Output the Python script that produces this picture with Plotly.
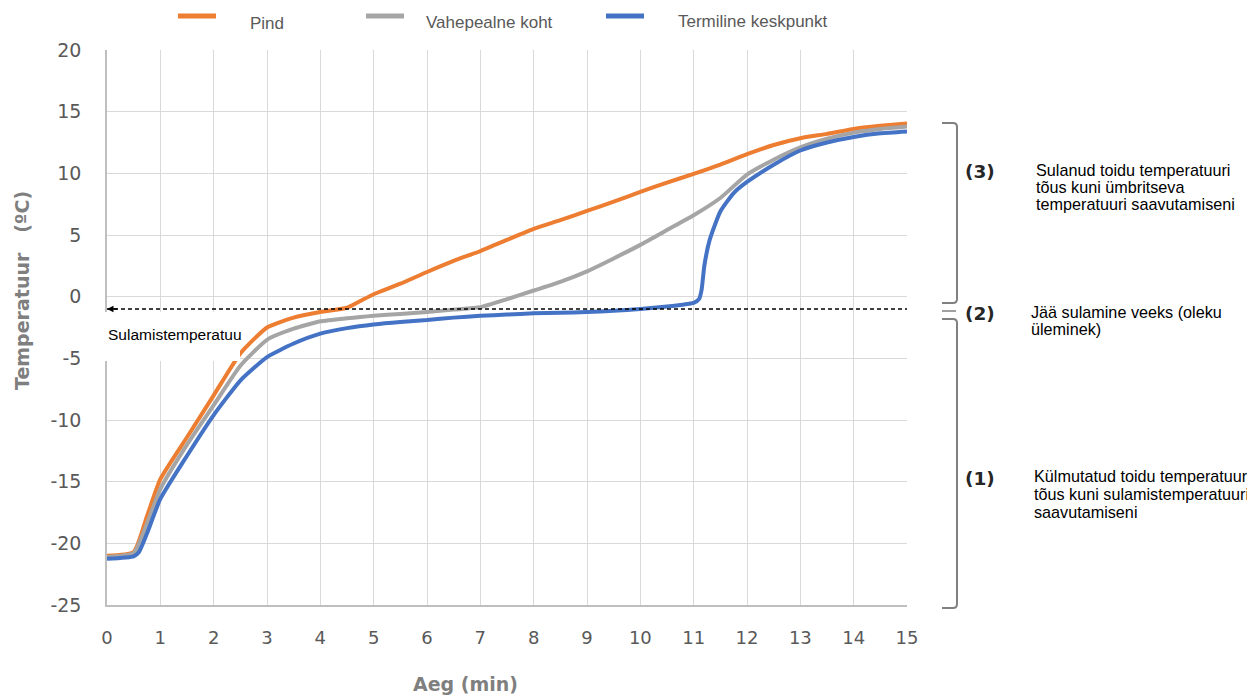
import plotly.graph_objects as go

# ---------------- data ----------------
time_min = [0, 0.5, 0.75, 1, 1.5, 2, 2.5, 3, 3.5, 4, 4.5, 4.75, 5, 5.5, 6, 6.5, 7, 7.5,
            8, 8.5, 9, 9.5, 10, 10.5, 11, 11.5, 12, 12.5, 13, 13.5, 14, 14.5, 15]
pind = [-21.0, -20.7, -17.8, -14.8, -11.4, -8.0, -4.6, -2.5, -1.7, -1.25, -0.9, -0.35,
        0.2, 1.05, 2.0, 2.9, 3.7, 4.6, 5.5, 6.2, 6.95, 7.7, 8.5, 9.25, 9.95, 10.7, 11.55,
        12.3, 12.85, 13.2, 13.6, 13.85, 14.05]
vahepealne = [-21.1, -20.8, -18.4, -15.6, -12.0, -8.8, -5.6, -3.5, -2.6, -2.0, -1.75,
              -1.65, -1.55, -1.4, -1.25, -1.05, -0.85, -0.2, 0.5, 1.2, 2.05, 3.1, 4.2,
              5.4, 6.6, 8.0, 9.9, 11.1, 12.1, 12.8, 13.3, 13.6, 13.8]
time_kesk = [0, 0.5, 0.6, 0.75, 1, 1.5, 2, 2.5, 3, 3.5, 4, 4.5, 5, 5.5, 6, 6.5, 7, 7.5,
             8, 8.5, 9, 9.5, 10, 10.5, 10.8, 11, 11.1, 11.15, 11.2, 11.3, 11.5, 11.75,
             12, 12.5, 13, 13.5, 14, 14.5, 15]
keskpunkt = [-21.25, -21.05, -20.7, -19.2, -16.4, -12.9, -9.6, -6.8, -4.9, -3.8, -3.0,
             -2.55, -2.25, -2.05, -1.9, -1.7, -1.55, -1.45, -1.35, -1.3, -1.25, -1.15,
             -1.0, -0.8, -0.65, -0.5, -0.2, 0.6, 2.5, 4.6, 6.9, 8.4, 9.3, 10.7, 11.85,
             12.5, 12.95, 13.25, 13.4]
melt_temp = -1.0

series_names = ["Pind", "Vahepealne koht", "Termiline keskpunkt"]
series_colors = ["#ED7D31", "#A5A5A5", "#4472C4"]

x_ticks = list(range(0, 16))
y_ticks = list(range(-25, 21, 5))

phase_labels = ["(3)", "(2)", "(1)"]
phase_texts = [
    ["Sulanud toidu temperatuuri", "tõus kuni ümbritseva", "temperatuuri saavutamiseni"],
    ["Jää sulamine veeks (oleku", "üleminek)"],
    ["Külmutatud toidu temperatuur", "tõus kuni sulamistemperatuuri", "saavutamiseni"],
]
melt_label = "Sulamistemperatuu"
x_title = "Aeg (min)"
y_title = "Temperatuur\u00a0\u00a0\u00a0(ºC)"

# ---------------- layout helpers (screen pixel -> paper) ----------------
# the page body has an 8px margin, so the figure is drawn 8px in from the corner
OFF = 8
W, H = 1255 - OFF, 695 - OFF
L, T = 107 - OFF, 50 - OFF
PW, PH = 800, 555
R, B = W - L - PW, H - T - PH


def px(x):
    return (x - OFF - L) / PW


def py(y):
    return (T + PH - (y - OFF)) / PH


fig = go.Figure()
for xs, ys, name, col in [(time_min, pind, series_names[0], series_colors[0]),
                          (time_min, vahepealne, series_names[1], series_colors[1]),
                          (time_kesk, keskpunkt, series_names[2], series_colors[2])]:
    fig.add_trace(go.Scatter(x=xs, y=ys, name=name, mode="lines",
                             line=dict(color=col, width=4, shape="spline", smoothing=0.5),
                             showlegend=False))

shapes = []
annotations = []

# melting temperature dashed line
shapes.append(dict(type="line", xref="x", yref="y", x0=0, x1=15, y0=melt_temp, y1=melt_temp,
                   line=dict(color="#000000", width=1.3, dash="4px,3px"), layer="above"))
annotations.append(dict(x=0, y=melt_temp, xref="x", yref="y", ax=12, ay=0, text="",
                        showarrow=True, arrowhead=2, arrowsize=1, arrowwidth=1.3,
                        arrowcolor="#000000"))

# white label box
shapes.append(dict(type="rect", xref="paper", yref="paper", x0=px(99), x1=px(240),
                   y0=py(361), y1=py(312), fillcolor="white", line=dict(width=0),
                   layer="above"))
annotations.append(dict(x=px(106), y=py(334), xref="paper", yref="paper", text=melt_label,
                        showarrow=False, xanchor="left", yanchor="middle",
                        font=dict(family="Liberation Sans", size=15.5, color="#000000")))

# legend (manual)
leg_items = [(178, 216, 248, 23), (366, 404, 424, 22), (606, 644, 676, 21)]
for (x0, x1, xt, yt), name, col in zip(leg_items, series_names, series_colors):
    shapes.append(dict(type="line", xref="paper", yref="paper", x0=px(x0), x1=px(x1),
                       y0=py(16), y1=py(16), line=dict(color=col, width=5)))
    annotations.append(dict(x=px(xt), y=py(yt), xref="paper", yref="paper", text=name,
                            showarrow=False, xanchor="left", yanchor="middle",
                            font=dict(family="Liberation Sans", size=17, color="#595959")))

# brackets
bx, hx, r = 957, 942, 4
gray = "#808080"


def bracket(ytop, ybot):
    return (f"M {px(hx)} {py(ytop)} L {px(bx - r)} {py(ytop)} "
            f"Q {px(bx)} {py(ytop)} {px(bx)} {py(ytop + r)} "
            f"L {px(bx)} {py(ybot - r)} "
            f"Q {px(bx)} {py(ybot)} {px(bx - r)} {py(ybot)} L {px(hx)} {py(ybot)}")


for ytop, ybot in [(123, 303), (319, 608)]:
    shapes.append(dict(type="path", xref="paper", yref="paper", path=bracket(ytop, ybot),
                       line=dict(color=gray, width=2)))
shapes.append(dict(type="line", xref="paper", yref="paper", x0=px(hx), x1=px(bx - 1),
                   y0=py(311), y1=py(311), line=dict(color="#A0A0A0", width=2)))

# phase annotations
phase_label_y = [171, 313, 478]
phase_text_x = [1034, 1029, 1032]
phase_text_y = [[170, 187, 204], [312, 329], [476, 494, 512]]
for lab, ly, lines, tx, tys in zip(phase_labels, phase_label_y, phase_texts,
                                  phase_text_x, phase_text_y):
    annotations.append(dict(x=px(980), y=py(ly), xref="paper", yref="paper", text=f"<b>{lab}</b>",
                            showarrow=False, xanchor="center", yanchor="middle",
                            font=dict(family="DejaVu Sans", size=18.5, color="#262626")))
    for line, ty in zip(lines, tys):
        annotations.append(dict(x=px(tx), y=py(ty), xref="paper", yref="paper", text=line,
                                showarrow=False, xanchor="left", yanchor="middle",
                                font=dict(family="Liberation Sans", size=16.2,
                                          color="#000000")))

# axis titles as annotations
annotations.append(dict(x=px(465), y=py(684), xref="paper", yref="paper", text=f"<b>{x_title}</b>",
                        showarrow=False, xanchor="center", yanchor="middle",
                        font=dict(family="DejaVu Sans", size=19, color="#7F7F7F")))
annotations.append(dict(x=px(22), y=py(291), xref="paper", yref="paper", text=f"<b>{y_title}</b>",
                        showarrow=False, xanchor="center", yanchor="middle", textangle=-90,
                        font=dict(family="DejaVu Sans", size=19, color="#7F7F7F")))

fig.update_layout(
    width=W, height=H,
    margin=dict(l=L, r=R, t=T, b=B),
    paper_bgcolor="white", plot_bgcolor="white",
    shapes=shapes, annotations=annotations,
    showlegend=False,
    xaxis=dict(range=[0, 15], tickvals=x_ticks, ticktext=[str(v) for v in x_ticks],
               showgrid=True, gridcolor="#D9D9D9", gridwidth=1, zeroline=False,
               showline=True, linecolor="#BFBFBF", linewidth=1.5, ticks="",
               ticklabelstandoff=16,
               tickfont=dict(family="DejaVu Sans", size=18, color="#595959")),
    yaxis=dict(range=[-25, 20], tickvals=y_ticks, ticktext=[str(v) for v in y_ticks],
               showgrid=True, gridcolor="#D9D9D9", gridwidth=1, zeroline=False,
               showline=True, linecolor="#BFBFBF", linewidth=1.5, ticks="",
               ticklabelstandoff=20,
               tickfont=dict(family="DejaVu Sans", size=19, color="#595959")),
)

fig.write_html("out.html")
